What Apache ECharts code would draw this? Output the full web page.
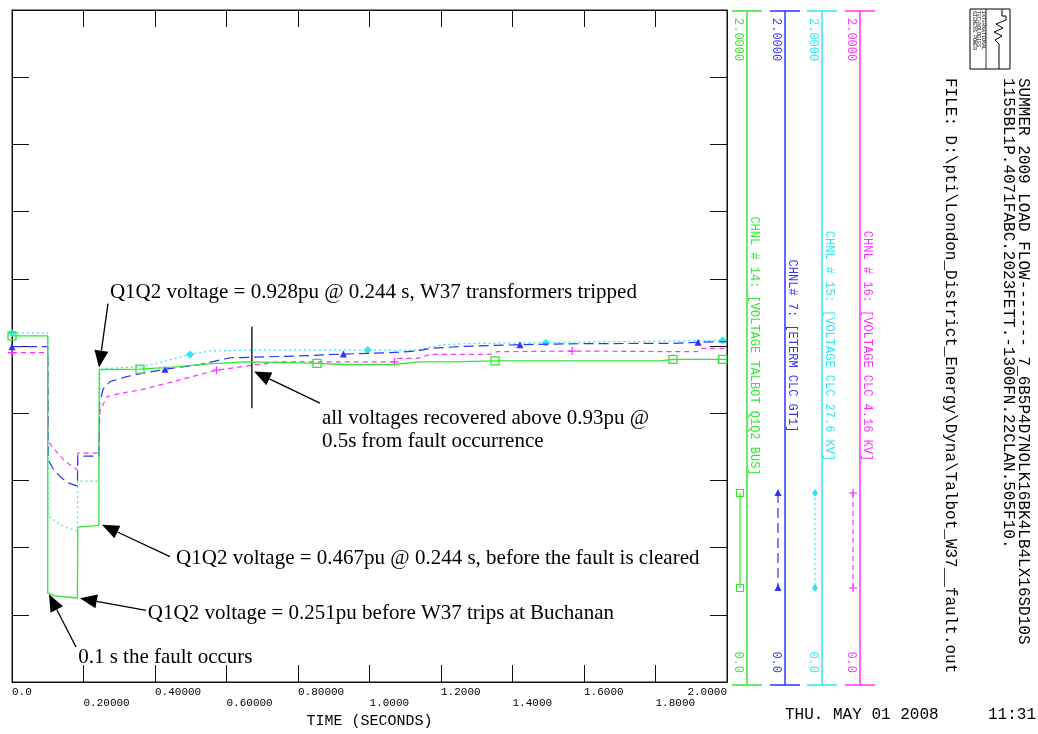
<!DOCTYPE html>
<html>
<head>
<meta charset="utf-8">
<script src="https://cdn.jsdelivr.net/npm/echarts@6/dist/echarts.min.js"></script>
<style>
html, body { margin: 0; padding: 0; background: #fff; }
#main { width: 1038px; height: 734px; }
</style>
</head>
<body>
<div id="main"></div>
<script>
// [time (s), value, 1 = marker drawn at this point]
var talbotQ1Q2 = [
    [0, 1.030, 1], [0.1, 1.030], [0.1, 0.265], [0.116, 0.257], [0.183, 0.250],
    [0.184, 0.461], [0.243, 0.466], [0.244, 0.930], [0.358, 0.931, 1], [0.45, 0.937],
    [0.55, 0.947], [0.65, 0.953], [0.76, 0.951], [0.853, 0.948, 1], [0.93, 0.945],
    [1.066, 0.945], [1.14, 0.953], [1.225, 0.953], [1.23, 0.956], [1.351, 0.956, 1],
    [1.813, 0.956], [1.818, 0.960], [1.849, 0.960, 1], [1.988, 0.960, 1], [2.0, 0.960]
];
var etermGT1 = [
    [0, 0.998, 1], [0.1, 0.998], [0.101, 0.662], [0.116, 0.632], [0.139, 0.607],
    [0.157, 0.593], [0.183, 0.583], [0.184, 0.672], [0.243, 0.672], [0.245, 0.830],
    [0.255, 0.872], [0.274, 0.894], [0.321, 0.909], [0.367, 0.919], [0.428, 0.931, 1],
    [0.526, 0.945], [0.61, 0.965], [0.796, 0.970], [0.927, 0.976, 1], [1.057, 0.980],
    [1.132, 0.985], [1.17, 0.993], [1.262, 0.999], [1.421, 1.004, 1], [1.6, 1.007],
    [1.85, 1.008], [1.919, 1.011, 1], [2.0, 1.013]
];
var clc276kv = [
    [0, 1.039, 1], [0.1, 1.039], [0.101, 0.494], [0.125, 0.475], [0.153, 0.459],
    [0.183, 0.449], [0.184, 0.598], [0.243, 0.598], [0.246, 0.925], [0.256, 0.933],
    [0.358, 0.938], [0.43, 0.955], [0.498, 0.975, 1], [0.554, 0.985], [0.674, 0.988],
    [0.995, 0.988, 1], [1.132, 0.988], [1.2, 1.003], [1.262, 1.007], [1.493, 1.010, 1],
    [1.7, 1.013], [1.988, 1.017, 1], [2.0, 1.017]
];
var clc416kv = [
    [0, 0.980, 1], [0.1, 0.980], [0.101, 0.716], [0.120, 0.691], [0.148, 0.657],
    [0.176, 0.637], [0.183, 0.630], [0.184, 0.681], [0.243, 0.681], [0.246, 0.806],
    [0.265, 0.849], [0.302, 0.859], [0.358, 0.869], [0.433, 0.889], [0.572, 0.928, 1],
    [0.674, 0.943], [0.75, 0.953], [1.07, 0.953, 1], [1.08, 0.963], [1.133, 0.963],
    [1.17, 0.975], [1.337, 0.975], [1.357, 0.983], [1.567, 0.985, 1], [1.916, 0.983],
    [1.93, 0.993], [2.0, 0.993]
];

var xTickLabels = ['0.0', '0.20000', '0.40000', '0.60000', '0.80000', '1.0000',
    '1.2000', '1.4000', '1.6000', '1.8000', '2.0000'];
var channelNames = ['CHNL # 14: [VOLTAGE TALBOT Q1Q2 BUS]', 'CHNL# 7: [ETERM CLC GT1]',
    'CHNL # 15: [VOLTAGE CLC 27.6 KV]', 'CHNL # 16: [VOLTAGE CLC 4.16 KV]'];
var channelMax = ['2.0000', '2.0000', '2.0000', '2.0000'];
var channelMin = ['0.0', '0.0', '0.0', '0.0'];
var headerLines = [
    'SUMMER 2009 LOAD FLOW------- 7_6B5P4D7NOLK16BK4LB4LX16SD10S',
    '1155BL1P.4071FABC.2023FETT.-1300FN.22CLAN.505F10.',
    'FILE: D:\\pti\\London_District_Energy\\Dyna\\Talbot_W37__fault.out'
];
var plotDate = 'THU. MAY 01 2008';
var plotClock = '11:31';

// annotations: [text, time, value] (left edge, middle)
var notes = [
    ['Q1Q2 voltage = 0.928pu @ 0.244 s, W37 transformers tripped', 0.274, 1.158],
    ['all voltages recovered above 0.93pu @', 0.867, 0.785],
    ['0.5s from fault occurrence', 0.867, 0.717],
    ['Q1Q2 voltage = 0.467pu @ 0.244 s, before the fault is cleared', 0.459, 0.367],
    ['Q1Q2 voltage = 0.251pu before W37 trips at Buchanan', 0.380, 0.204],
    ['0.1 s the fault occurs', 0.185, 0.074]
];
// arrows: [from, to] in [time, value]
var noteArrows = [
    [[0.2685, 1.126], [0.2434, 0.936]],
    [[0.8615, 0.830], [0.677, 0.924]],
    [[0.442, 0.373], [0.2517, 0.468]],
    [[0.375, 0.213], [0.190, 0.249]],
    [[0.179, 0.104], [0.1035, 0.261]]
];
var recoveryMark = [[0.671, 1.058], [0.671, 0.815]];

var GREEN = '#33e633', BLUE = '#3030ff', CYAN = '#30e6f0', MAGENTA = '#ff30ff';
var MONO = '"Liberation Mono", "DejaVu Sans Mono", monospace';
var SERIF = '"Liberation Serif", "Times New Roman", serif';

function points(rows, sym) {
    return rows.map(function (r) {
        return { value: [r[0], r[1]], symbol: r[2] ? sym : 'none' };
    });
}

var chart = echarts.init(document.getElementById('main'));

var axisBase = {
    type: 'value', min: 0, max: 2, interval: 0.2,
    axisLine: { show: true, onZero: false, lineStyle: { color: '#111', width: 1 } },
    axisTick: { show: true, inside: true, length: 17, lineStyle: { color: '#111', width: 1 } },
    splitLine: { show: false },
    axisLabel: { show: false }
};

// even tick labels on the first row, odd ones on the second
function tickLabel(row) {
    return {
        show: true,
        showMinLabel: true,
        showMaxLabel: true,
        formatter: function (v) {
            var i = Math.round(v / 0.2);
            return i % 2 === row ? xTickLabels[i] : '';
        },
        align: 'left',
        alignMaxLabel: 'right',
        margin: 5,
        fontFamily: MONO,
        fontSize: 11,
        color: '#000'
    };
}

var option = {
    animation: false,
    grid: { left: 12, right: 311, top: 10, bottom: 49, show: true, borderColor: '#111', borderWidth: 1 },
    xAxis: [
        Object.assign({}, axisBase, {
            position: 'bottom',
            axisLabel: tickLabel(0),
            name: 'TIME (SECONDS)',
            nameLocation: 'middle',
            nameGap: 32,
            nameTextStyle: { fontFamily: MONO, fontSize: 15, color: '#000' }
        }),
        Object.assign({}, axisBase, { position: 'top' }),
        Object.assign({}, axisBase, {
            position: 'bottom', offset: 11,
            axisLine: { show: false }, axisTick: { show: false },
            axisLabel: tickLabel(1)
        })
    ],
    yAxis: [
        Object.assign({}, axisBase, { position: 'left' }),
        Object.assign({}, axisBase, { position: 'right' })
    ],
    series: [
        {
            name: channelNames[2], type: 'line', data: points(clc276kv, 'diamond'),
            symbolSize: 8, showAllSymbol: true, z: 2,
            lineStyle: { color: CYAN, width: 1.2, type: [2, 3] },
            itemStyle: { color: CYAN }
        },
        {
            name: channelNames[3], type: 'line', data: points(clc416kv, 'path://M4,0L4,8M0,4L8,4'),
            symbolSize: 8, showAllSymbol: true, z: 2,
            lineStyle: { color: MAGENTA, width: 1.2, type: [5, 4] },
            itemStyle: { color: 'none', borderColor: MAGENTA, borderWidth: 1.2 }
        },
        {
            name: channelNames[1], type: 'line', data: points(etermGT1, 'triangle'),
            symbolSize: 7, showAllSymbol: true, z: 3,
            lineStyle: { color: BLUE, width: 1.2, type: [10, 5] },
            itemStyle: { color: BLUE }
        },
        {
            name: channelNames[0], type: 'line', data: points(talbotQ1Q2, 'rect'),
            symbolSize: 8, showAllSymbol: true, z: 4,
            lineStyle: { color: GREEN, width: 1.3 },
            itemStyle: { color: 'none', borderColor: GREEN, borderWidth: 1.3 }
        }
    ]
};
chart.setOption(option);

function px(p) {
    return chart.convertToPixel({ xAxisIndex: 0, yAxisIndex: 0 }, p);
}

function arrow(a, b) {
    var p = px(a), q = px(b);
    var dx = q[0] - p[0], dy = q[1] - p[1];
    var len = Math.sqrt(dx * dx + dy * dy);
    var ux = dx / len, uy = dy / len;
    var hl = 17, hw = 7;
    var bx = q[0] - ux * hl, by = q[1] - uy * hl;
    return [
        { type: 'line', shape: { x1: p[0], y1: p[1], x2: bx, y2: by }, style: { stroke: '#000', lineWidth: 1.3 } },
        { type: 'polygon', shape: { points: [[q[0], q[1]], [bx - uy * hw, by + ux * hw], [bx + uy * hw, by - ux * hw]] },
          style: { fill: '#000' } }
    ];
}

var g = [];
notes.forEach(function (n) {
    var p = px([n[1], n[2]]);
    g.push({ type: 'text', x: p[0], y: p[1],
        style: { text: n[0], fontFamily: SERIF, fontSize: 21, fill: '#000', align: 'left', verticalAlign: 'middle' } });
});
noteArrows.forEach(function (a) { g = g.concat(arrow(a[0], a[1])); });
var m0 = px(recoveryMark[0]), m1 = px(recoveryMark[1]);
g.push({ type: 'line', shape: { x1: m0[0], y1: m0[1], x2: m1[0], y2: m1[1] }, style: { stroke: '#000', lineWidth: 1.3 } });

// channel scale bars on the right
var chanX = [747, 785, 822, 860];
var chanColor = [GREEN, BLUE, CYAN, MAGENTA];
var chanDash = [null, [10, 5], [2, 3], [5, 4]];
var V = -Math.PI / 2;
chanX.forEach(function (x, i) {
    var c = chanColor[i];
    g.push({ type: 'line', shape: { x1: x, y1: 11, x2: x, y2: 685 }, style: { stroke: c, lineWidth: 1.5 } });
    g.push({ type: 'line', shape: { x1: x - 15, y1: 11, x2: x + 15, y2: 11 }, style: { stroke: c, lineWidth: 1.5 } });
    g.push({ type: 'line', shape: { x1: x - 15, y1: 685, x2: x + 15, y2: 685 }, style: { stroke: c, lineWidth: 1.5 } });
    g.push({ type: 'text', x: x - 9, y: 18, rotation: V,
        style: { text: channelMax[i], fontFamily: MONO, fontSize: 12, fill: c, align: 'left', verticalAlign: 'middle' } });
    g.push({ type: 'text', x: x - 9, y: 673, rotation: V,
        style: { text: channelMin[i], fontFamily: MONO, fontSize: 12, fill: c, align: 'right', verticalAlign: 'middle' } });
    g.push({ type: 'text', x: x + 7, y: 346, rotation: V,
        style: { text: channelNames[i], fontFamily: MONO, fontSize: 12, fill: c, align: 'center', verticalAlign: 'middle' } });
    var sx = x - 7;
    var ls = { stroke: c, lineWidth: 1.2 };
    if (chanDash[i]) ls.lineDash = chanDash[i];
    g.push({ type: 'line', shape: { x1: sx, y1: 493, x2: sx, y2: 588 }, style: ls });
    [493, 588].forEach(function (y) {
        if (i === 0) {
            g.push({ type: 'rect', shape: { x: sx - 3.5, y: y - 3.5, width: 7, height: 7 }, style: { fill: 'none', stroke: c, lineWidth: 1.2 } });
        } else if (i === 1) {
            g.push({ type: 'polygon', shape: { points: [[sx, y - 4], [sx - 3.5, y + 3], [sx + 3.5, y + 3]] }, style: { fill: c } });
        } else if (i === 2) {
            g.push({ type: 'polygon', shape: { points: [[sx, y - 4], [sx + 3, y], [sx, y + 4], [sx - 3, y]] }, style: { fill: c } });
        } else {
            g.push({ type: 'line', shape: { x1: sx - 4, y1: y, x2: sx + 4, y2: y }, style: { stroke: c, lineWidth: 1.2 } });
            g.push({ type: 'line', shape: { x1: sx, y1: y - 4, x2: sx, y2: y + 4 }, style: { stroke: c, lineWidth: 1.2 } });
        }
    });
});

// header block (rotated) and logo
var headerX = [1023, 1008, 950];
headerLines.forEach(function (t, i) {
    g.push({ type: 'text', x: headerX[i], y: 78, rotation: V,
        style: { text: t, fontFamily: MONO, fontSize: 16, fill: '#000', align: 'left', verticalAlign: 'middle' } });
});
g.push({ type: 'rect', shape: { x: 970, y: 9, width: 40, height: 60 }, style: { fill: 'none', stroke: '#000', lineWidth: 1 } });
['SIEMENS POWER', 'TECHNOLOGIES', 'INTERNATIONAL'].forEach(function (t, i) {
    g.push({ type: 'text', x: 974 + i * 4.5, y: 11, rotation: V,
        style: { text: t, fontFamily: MONO, fontSize: 5, fill: '#000', align: 'left', verticalAlign: 'middle' } });
});
g.push({ type: 'line', shape: { x1: 986, y1: 9, x2: 986, y2: 69 }, style: { stroke: '#000', lineWidth: 0.8 } });
g.push({ type: 'polyline', shape: { points: [[1002, 9], [1002, 16], [1006, 16], [1006, 20], [996, 24], [1003, 28], [994, 32],
    [1002, 36], [995, 40], [999, 44], [999, 69]] }, style: { fill: 'none', stroke: '#000', lineWidth: 1 } });
g.push({ type: 'text', x: 785, y: 715,
    style: { text: plotDate, fontFamily: MONO, fontSize: 16, fill: '#000', align: 'left', verticalAlign: 'middle' } });
g.push({ type: 'text', x: 988, y: 715,
    style: { text: plotClock, fontFamily: MONO, fontSize: 16, fill: '#000', align: 'left', verticalAlign: 'middle' } });

chart.setOption({ graphic: g });
</script>
</body>
</html>
